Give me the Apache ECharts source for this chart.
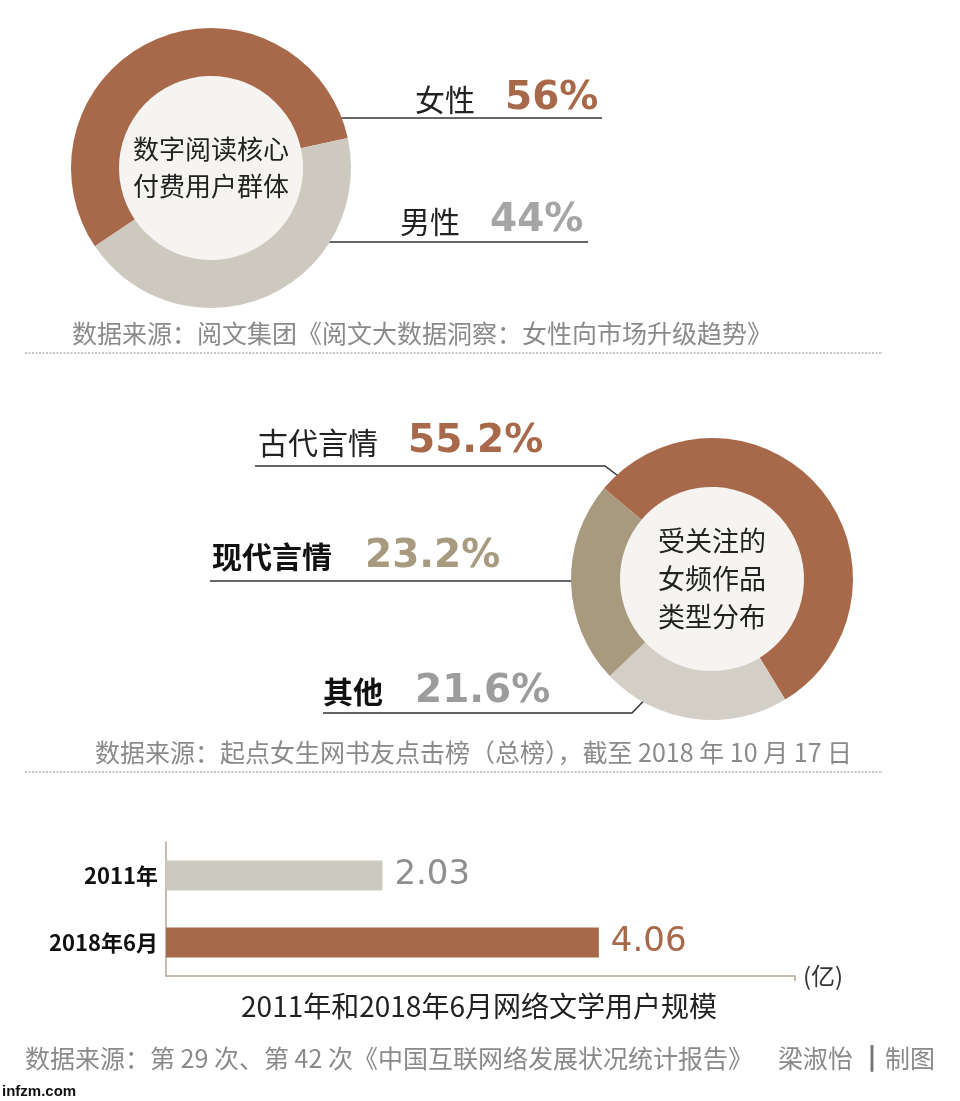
<!DOCTYPE html>
<html>
<head>
<meta charset="utf-8">
<script src="https://cdn.jsdelivr.net/npm/echarts@6/dist/echarts.min.js"></script>
<style>
html,body{margin:0;padding:0;background:#ffffff;}
#main{width:960px;height:1101px;}
</style>
</head>
<body>
<div id="main"></div>
<script>
// ---- data ----
const readerNames = ['女性', '男性'];
const readerValues = [56, 44];
const genreNames = ['古代言情', '现代言情', '其他'];
const genreValues = [55.2, 23.2, 21.6];
const barCategories = ['2011年', '2018年6月'];
const barValues = [2.03, 4.06];

// ---- styles ----
const BROWN = '#a8694a';
const GRAY = '#cdc9bf';
const TAN = '#a89a7e';
const LIGHT = '#d3cfc6';
const CJK = '"Noto Sans CJK SC", sans-serif';
const NUM = '"DejaVu Sans", sans-serif';

const chart = echarts.init(document.getElementById('main'), null, {renderer: 'canvas'});

function txt(text, x, y, font, fill, align) {
  return {type: 'text', x: x, y: y, silent: true,
    style: {text: text, font: font, fill: fill, textAlign: align || 'left', textVerticalAlign: 'middle'}};
}
function line(points, stroke, width, dash) {
  return {type: 'polyline', silent: true, shape: {points: points},
    style: {stroke: stroke, lineWidth: width, lineDash: dash || null, fill: null}};
}

const pct = v => v + '%';

const graphics = [
  // donut 1 labels
  txt(readerNames[0], 415, 100, '30px ' + CJK, '#222'),
  txt(pct(readerValues[0]), 505, 99, 'bold 39px ' + NUM, BROWN),
  line([[318, 118], [602, 118]], '#333', 1.5),
  txt(readerNames[1], 400, 222, '30px ' + CJK, '#222'),
  txt(pct(readerValues[1]), 490, 221, 'bold 39px ' + NUM, '#a5a5a5'),
  line([[312, 242], [588, 242]], '#333', 1.5),
  txt('数据来源：阅文集团《阅文大数据洞察：女性向市场升级趋势》', 72, 333, '25px ' + CJK, '#8a8a8a'),
  line([[25, 353], [883, 353]], '#8a8a8a', 1, [2, 1.5]),
  // donut 2 labels
  txt(genreNames[0], 258, 443, '30px ' + CJK, '#222'),
  txt(pct(genreValues[0]), 408, 442, 'bold 39px ' + NUM, BROWN),
  line([[255, 466], [605, 466], [638, 491]], '#333', 1.5),
  txt(genreNames[1], 212, 557, 'bold 30px ' + CJK, '#111'),
  txt(pct(genreValues[1]), 365, 557, 'bold 39px ' + NUM, TAN),
  line([[210, 581], [598, 581]], '#333', 1.5),
  txt(genreNames[2], 323, 692, 'bold 30px ' + CJK, '#111'),
  txt(pct(genreValues[2]), 415, 692, 'bold 39px ' + NUM, '#9c9c9c'),
  line([[323, 713], [632, 713], [657, 687]], '#333', 1.5),
  txt('数据来源：起点女生网书友点击榜（总榜），截至 2018 年 10 月 17 日', 95, 752, '25px ' + CJK, '#8a8a8a'),
  line([[25, 772], [883, 772]], '#8a8a8a', 1, [2, 1.5]),
  // bar chart title and footer
  txt('2011年和2018年6月网络文学用户规模', 479, 1006, '28px ' + CJK, '#222', 'center'),
  txt('数据来源：第 29 次、第 42 次《中国互联网络发展状况统计报告》', 25, 1058, '25px ' + CJK, '#8a8a8a'),
  txt('梁淑怡', 778, 1058, '25px ' + CJK, '#8a8a8a'),
  txt('|', 872, 1058, 'bold 26px ' + NUM, '#777', 'center'),
  txt('制图', 885, 1058, '25px ' + CJK, '#8a8a8a'),
  txt('infzm.com', 2, 1092, 'bold 15px "Liberation Sans", sans-serif', '#111')
];

const genreOrder = [0, 2, 1]; // clockwise order as drawn
const genreColors = [BROWN, TAN, LIGHT];

const option = {
  backgroundColor: '#ffffff',
  animation: false,
  grid: {left: 166, right: 165, top: 842, bottom: 125, outerBoundsMode: 'none', containLabel: false},
  xAxis: {
    type: 'value', min: 0, max: 5.9, interval: 5.9,
    axisLine: {show: true, lineStyle: {color: '#b3a495', width: 1.5}},
    axisTick: {show: true, customValues: [5.9], length: 5, lineStyle: {color: '#b3a495', width: 1.5}},
    axisLabel: {show: false},
    splitLine: {show: false},
    name: '(亿)', nameLocation: 'end', nameGap: 8,
    nameTextStyle: {fontFamily: CJK, fontSize: 24, color: '#333', verticalAlign: 'middle'}
  },
  yAxis: {
    type: 'category', data: barCategories, inverse: true,
    axisLine: {show: true, lineStyle: {color: '#b3a495', width: 1.5}},
    axisTick: {show: false},
    axisLabel: {fontFamily: CJK, fontWeight: 'bold', fontSize: 22, color: '#111', margin: 8}
  },
  series: [
    {
      type: 'pie', center: [211, 168], radius: [0, 92], silent: true,
      label: {show: true, position: 'center', formatter: '数字阅读核心\n付费用户群体',
        fontFamily: CJK, fontSize: 26, lineHeight: 37, color: '#222'},
      labelLine: {show: false}, emphasis: {disabled: true},
      data: [{value: 1, itemStyle: {color: '#f6f4f1'}}]
    },
    {
      type: 'pie', center: [211, 168], radius: [92, 140], startAngle: 214, clockwise: true,
      silent: true, label: {show: false}, labelLine: {show: false}, emphasis: {disabled: true},
      data: readerNames.map((n, i) => ({name: n, value: readerValues[i], itemStyle: {color: [BROWN, GRAY][i]}}))
    },
    {
      type: 'pie', center: [712, 579], radius: [0, 92], silent: true,
      label: {show: true, position: 'center', formatter: '受关注的\n女频作品\n类型分布',
        fontFamily: CJK, fontSize: 27, lineHeight: 38, color: '#222'},
      labelLine: {show: false}, emphasis: {disabled: true},
      data: [{value: 1, itemStyle: {color: '#f6f4f1'}}]
    },
    {
      type: 'pie', center: [712, 579], radius: [92, 141], startAngle: 140, clockwise: true,
      silent: true, label: {show: false}, labelLine: {show: false}, emphasis: {disabled: true},
      data: genreOrder.map(i => ({name: genreNames[i], value: genreValues[i], itemStyle: {color: genreColors[i]}}))
    },
    {
      type: 'bar', barWidth: 30, silent: true,
      data: barValues.map((v, i) => ({value: v, itemStyle: {color: ['#ccc9bf', BROWN][i]},
        label: {color: ['#8f8f8f', BROWN][i]}})),
      label: {show: true, position: 'right', distance: 12, fontFamily: NUM, fontSize: 34,
        formatter: p => p.value.toFixed(2)}
    }
  ],
  graphic: graphics
};
chart.setOption(option);
</script>
</body>
</html>
